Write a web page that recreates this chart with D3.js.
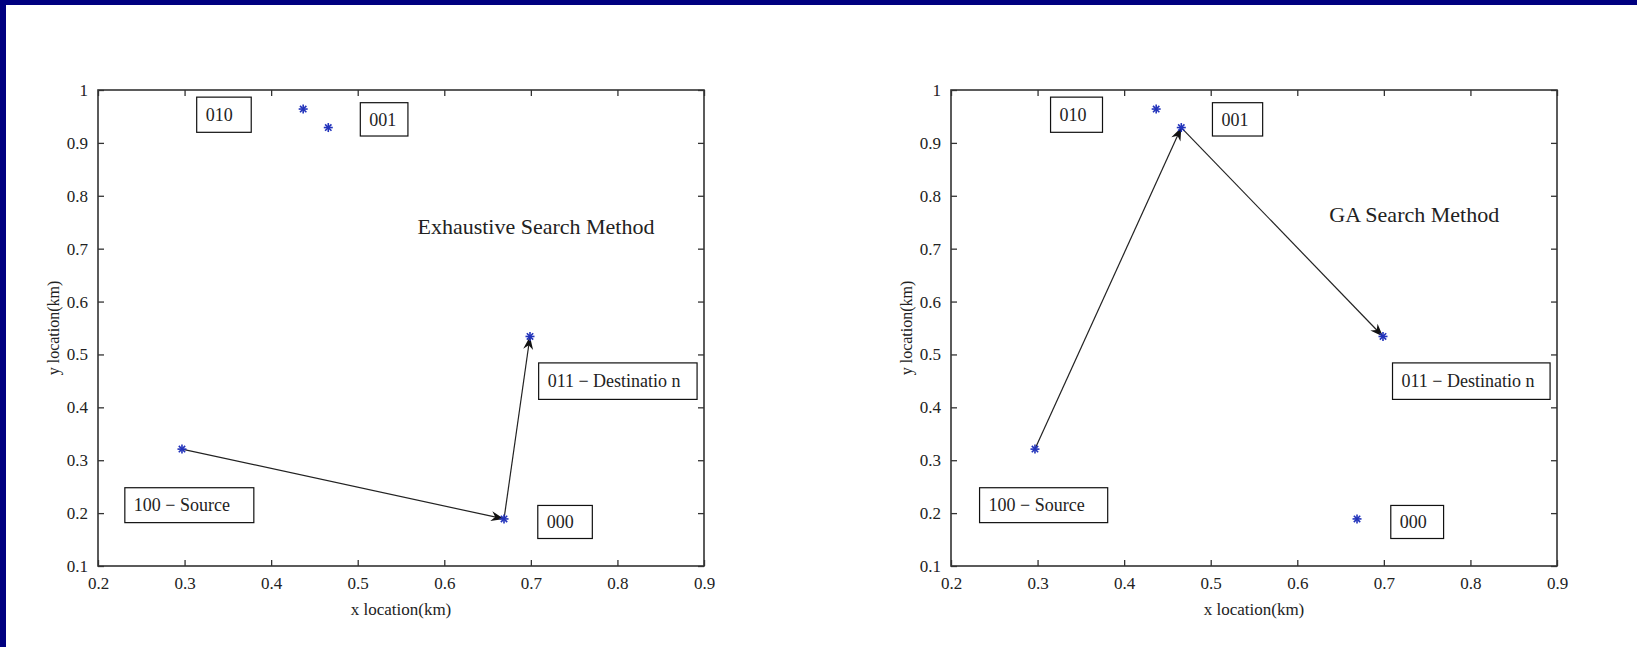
<!DOCTYPE html>
<html><head><meta charset="utf-8">
<script src="https://cdn.jsdelivr.net/npm/d3@7/dist/d3.min.js"></script>
<style>
html,body{margin:0;padding:0;background:#fff;}
svg{display:block;}
text{font-family:"Liberation Serif","Times New Roman",serif;fill:#222;}
</style></head>
<body>
<svg id="chart" width="1637" height="647"></svg>
<script>
// ---- data ----
const nodeNames = ["100", "010", "001", "000", "011"];
const nodeX = [0.297, 0.437, 0.466, 0.669, 0.699];
const nodeY = [0.321, 0.964, 0.929, 0.189, 0.534];

const xTicks = [0.2, 0.3, 0.4, 0.5, 0.6, 0.7, 0.8, 0.9];
const yTicks = [0.1, 0.2, 0.3, 0.4, 0.5, 0.6, 0.7, 0.8, 0.9, 1];
const xTickLabels = ["0.2","0.3","0.4","0.5","0.6","0.7","0.8","0.9"];
const yTickLabels = ["0.1","0.2","0.3","0.4","0.5","0.6","0.7","0.8","0.9","1"];

const panelTitles = ["Exhaustive Search Method", "GA Search Method"];
const pathExhaustive = ["100", "000", "011"];
const pathGA = ["100", "001", "011"];

// label boxes: text, x0, x1, y0 (top), y1 (bottom) in data units
const boxTexts = ["010", "001", "011 \u2212 Destinatio n", "100 \u2212 Source", "000"];
const boxX0Left = [0.314, 0.503, 0.709, 0.231, 0.708];
const boxX1Left = [0.377, 0.558, 0.892, 0.380, 0.771];
const boxX0Right = [0.315, 0.502, 0.710, 0.233, 0.708];
const boxX1Right = [0.375, 0.560, 0.892, 0.381, 0.769];
const boxYTop = [0.9865, 0.976, 0.484, 0.248, 0.2145];
const boxYBot = [0.920, 0.913, 0.415, 0.182, 0.152];

const titleX = [0.569, 0.637];
const titleY = [0.742, 0.765];

// ---- drawing ----
const svg = d3.select("#chart");
svg.append("rect").attr("x",0).attr("y",0).attr("width",1637).attr("height",5).attr("fill","#000080");
svg.append("rect").attr("x",0).attr("y",0).attr("width",6).attr("height",647).attr("fill","#000080");

const defs = svg.append("defs");
defs.append("marker").attr("id","arr").attr("viewBox","-14 -6 16 12")
  .attr("refX",0).attr("refY",0).attr("markerWidth",16).attr("markerHeight",12)
  .attr("markerUnits","userSpaceOnUse").attr("orient","auto")
  .append("path").attr("d","M0,0 L-13,-5 L-9,0 L-13,5 Z").attr("fill","#111");

const panels = [
  {left:98, right:704, path:pathExhaustive, bx0:boxX0Left, bx1:boxX1Left},
  {left:951, right:1557, path:pathGA, bx0:boxX0Right, bx1:boxX1Right}
];
const plotTop = 90, plotBottom = 566;

panels.forEach((p, pi) => {
  const x = d3.scaleLinear().domain([0.2, 0.9]).range([p.left, p.right]);
  const y = d3.scaleLinear().domain([0.1, 1]).range([plotBottom, plotTop]);
  const g = svg.append("g");

  const axStyle = sel => {
    sel.select(".domain").remove();
    sel.selectAll(".tick line").attr("stroke","#333").attr("stroke-width",1.3);
    sel.selectAll(".tick text").attr("font-family","Liberation Serif, serif").attr("font-size",17).attr("fill","#333");
  };
  g.append("g").attr("transform",`translate(0,${plotBottom})`)
    .call(d3.axisBottom(x).tickValues(xTicks).tickFormat((d,i)=>xTickLabels[i]).tickSizeInner(-6).tickSizeOuter(0).tickPadding(11))
    .call(axStyle);
  g.append("g").attr("transform",`translate(0,${plotTop})`)
    .call(d3.axisTop(x).tickValues(xTicks).tickFormat("").tickSizeInner(-6).tickSizeOuter(0))
    .call(axStyle);
  g.append("g").attr("transform",`translate(${p.left},0)`)
    .call(d3.axisLeft(y).tickValues(yTicks).tickFormat((d,i)=>yTickLabels[i]).tickSizeInner(-6).tickSizeOuter(0).tickPadding(10))
    .call(axStyle);
  g.append("g").attr("transform",`translate(${p.right},0)`)
    .call(d3.axisRight(y).tickValues(yTicks).tickFormat("").tickSizeInner(-6).tickSizeOuter(0))
    .call(axStyle);
  g.append("rect").attr("x",p.left).attr("y",plotTop).attr("width",p.right-p.left).attr("height",plotBottom-plotTop)
    .attr("fill","none").attr("stroke","#333").attr("stroke-width",1.6);

  g.append("text").attr("x",(p.left+p.right)/2).attr("y",615).attr("text-anchor","middle")
    .attr("font-size",17).text("x location(km)");
  g.append("text").attr("transform",`translate(${p.left-39},${(plotTop+plotBottom)/2}) rotate(-90)`)
    .attr("text-anchor","middle").attr("font-size",16).text("y location(km)");

  g.append("text").attr("x",x(titleX[pi])).attr("y",y(titleY[pi])).attr("dy","0.35em")
    .attr("font-size",22).text(panelTitles[pi]);

  boxTexts.forEach((t,i) => {
    const bx0 = x(p.bx0[i]), bx1 = x(p.bx1[i]), by0 = y(boxYTop[i]), by1 = y(boxYBot[i]);
    g.append("rect").attr("x",bx0).attr("y",by0).attr("width",bx1-bx0).attr("height",by1-by0)
      .attr("fill","#fff").attr("stroke","#111").attr("stroke-width",1.2);
    g.append("text").attr("x",bx0+9).attr("y",(by0+by1)/2).attr("dy","0.35em")
      .attr("text-anchor","start").attr("font-size",18).text(t);
  });

  for (let k = 0; k < p.path.length - 1; k++) {
    const a = nodeNames.indexOf(p.path[k]), b = nodeNames.indexOf(p.path[k+1]);
    g.append("line").attr("x1",x(nodeX[a])).attr("y1",y(nodeY[a]))
      .attr("x2",x(nodeX[b])).attr("y2",y(nodeY[b]))
      .attr("stroke","#222").attr("stroke-width",1.2).attr("marker-end","url(#arr)");
  }

  nodeNames.forEach((n,i) => {
    const cx = x(nodeX[i]), cy = y(nodeY[i]), r = 4.5;
    const m = g.append("g").attr("transform",`translate(${cx},${cy})`);
    [0,45,90,135].forEach(ang => {
      const rad = ang*Math.PI/180;
      m.append("line").attr("x1",-r*Math.cos(rad)).attr("y1",-r*Math.sin(rad))
        .attr("x2",r*Math.cos(rad)).attr("y2",r*Math.sin(rad))
        .attr("stroke","#2233bb").attr("stroke-width",1.6);
    });
  });
});
</script>
</body></html>
